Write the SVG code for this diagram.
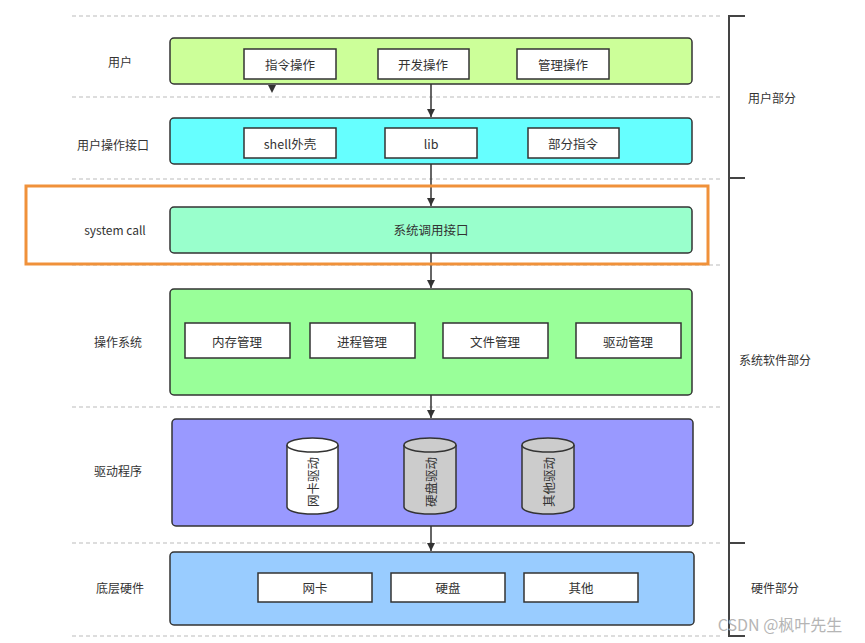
<svg xmlns="http://www.w3.org/2000/svg" width="865" height="643" viewBox="0 0 865 643">
<style>
text{font-family:"Noto Sans CJK SC","Liberation Sans",sans-serif;fill:#333;dominant-baseline:central;text-anchor:middle}
.lbl{font-size:12px}
.in{font-size:12.5px}
.dash{stroke:#bbb;stroke-width:1;stroke-dasharray:4 3;fill:none}
.big{stroke:#333;stroke-width:1.5}
.sub{fill:#fff;stroke:#333;stroke-width:1.5}
.cn{stroke:#333;stroke-width:1.5;fill:none}
.br{stroke:#444;stroke-width:2;fill:none}
</style>
<defs>
<marker id="ah" viewBox="0 0 10 10" refX="10" refY="5" markerWidth="8" markerHeight="8" markerUnits="userSpaceOnUse" orient="auto"><path d="M0,0 L10,5 L0,10 z" fill="#333"/></marker>
</defs>
<rect width="865" height="643" fill="#fff"/>
<g id="dashes">
<line class="dash" x1="72" y1="16" x2="723" y2="16"/>
<line class="dash" x1="72" y1="97" x2="723" y2="97"/>
<line class="dash" x1="72" y1="179" x2="723" y2="179"/>
<line class="dash" x1="72" y1="265" x2="723" y2="265"/>
<line class="dash" x1="72" y1="407" x2="723" y2="407"/>
<line class="dash" x1="72" y1="543" x2="723" y2="543"/>
<line class="dash" x1="72" y1="636" x2="723" y2="636"/>
</g>
<g id="bracket">
<path class="br" d="M745,16 H729 V636 H745"/>
<line class="br" x1="729" y1="178" x2="745" y2="178"/>
<line class="br" x1="729" y1="543" x2="745" y2="543"/>
<text class="lbl" x="772" y="97">用户部分</text>
<text class="lbl" x="775" y="359">系统软件部分</text>
<text class="lbl" x="775" y="587">硬件部分</text>
</g>
<g id="connectors">
<line class="cn" x1="431" y1="79" x2="431" y2="117" marker-end="url(#ah)"/>
<line class="cn" x1="431" y1="164" x2="431" y2="206" marker-end="url(#ah)"/>
<line class="cn" x1="431" y1="253" x2="431" y2="288" marker-end="url(#ah)"/>
<line class="cn" x1="431" y1="395" x2="431" y2="418" marker-end="url(#ah)"/>
<line class="cn" x1="431" y1="526" x2="431" y2="551" marker-end="url(#ah)"/>
<path d="M268,85 L276,85 L272,93 z" fill="#333"/>
</g>
<g id="user">
<text class="lbl" x="120" y="61">用户</text>
<rect class="big" x="170" y="38" width="522" height="46" rx="4" fill="#ccff99"/>
<rect class="sub" x="244" y="49" width="92" height="30"/><text class="in" x="290" y="64">指令操作</text>
<rect class="sub" x="378" y="49" width="91" height="30"/><text class="in" x="423" y="64">开发操作</text>
<rect class="sub" x="517" y="49" width="92" height="30"/><text class="in" x="563" y="64">管理操作</text>
</g>
<g id="userapi">
<text class="lbl" x="113" y="144">用户操作接口</text>
<rect class="big" x="170" y="118" width="522" height="46" rx="4" fill="#66ffff"/>
<rect class="sub" x="244" y="128" width="92" height="30"/><text class="in" x="290" y="143">shell外壳</text>
<rect class="sub" x="385" y="128" width="92" height="30"/><text class="in" x="431" y="143">lib</text>
<rect class="sub" x="528" y="128" width="91" height="30"/><text class="in" x="573" y="143">部分指令</text>
</g>
<g id="syscall">
<rect x="26" y="186" width="682" height="78" fill="none" stroke="#f0913a" stroke-width="3"/>
<text class="lbl" x="115" y="229">system call</text>
<rect class="big" x="170" y="207" width="522" height="46" rx="4" fill="#99ffcc"/>
<text class="in" x="431" y="229">系统调用接口</text>
</g>
<g id="os">
<text class="lbl" x="118" y="341">操作系统</text>
<rect class="big" x="170" y="289" width="522" height="106" rx="4" fill="#99ff99"/>
<rect class="sub" x="185" y="323" width="105" height="35"/><text class="in" x="237" y="341">内存管理</text>
<rect class="sub" x="310" y="323" width="105" height="35"/><text class="in" x="362" y="341">进程管理</text>
<rect class="sub" x="443" y="323" width="105" height="35"/><text class="in" x="495" y="341">文件管理</text>
<rect class="sub" x="576" y="323" width="105" height="35"/><text class="in" x="628" y="341">驱动管理</text>
</g>
<g id="driver">
<text class="lbl" x="118" y="470">驱动程序</text>
<rect class="big" x="172" y="419" width="521" height="107" rx="4" fill="#9999ff"/>
<g id="cyl1">
<path class="sub" d="M287,445 V507 A25.5,7 0 0 0 338,507 V445"/>
<ellipse class="sub" cx="312.5" cy="445" rx="25.5" ry="7"/>
<text class="in" transform="translate(312.5,482) rotate(-90)">网卡驱动</text>
</g>
<g id="cyl2">
<path class="sub" style="fill:#cccccc" d="M404,445 V507 A26,7 0 0 0 456,507 V445"/>
<ellipse class="sub" style="fill:#cccccc" cx="430" cy="445" rx="26" ry="7"/>
<text class="in" transform="translate(430,482) rotate(-90)">硬盘驱动</text>
</g>
<g id="cyl3">
<path class="sub" style="fill:#cccccc" d="M522,445 V507 A26,7 0 0 0 574,507 V445"/>
<ellipse class="sub" style="fill:#cccccc" cx="548" cy="445" rx="26" ry="7"/>
<text class="in" transform="translate(548,482) rotate(-90)">其他驱动</text>
</g>
</g>
<g id="hardware">
<text class="lbl" x="120" y="587">底层硬件</text>
<rect class="big" x="170" y="552" width="524" height="73" rx="4" fill="#99ccff"/>
<rect class="sub" x="258" y="573" width="114" height="29"/><text class="in" x="315" y="587">网卡</text>
<rect class="sub" x="391" y="573" width="114" height="29"/><text class="in" x="448" y="587">硬盘</text>
<rect class="sub" x="524" y="573" width="114" height="29"/><text class="in" x="581" y="587">其他</text>
</g>
<text x="780" y="624" style="font-size:16px;fill:#b5b5b5">CSDN @枫叶先生</text>
</svg>
